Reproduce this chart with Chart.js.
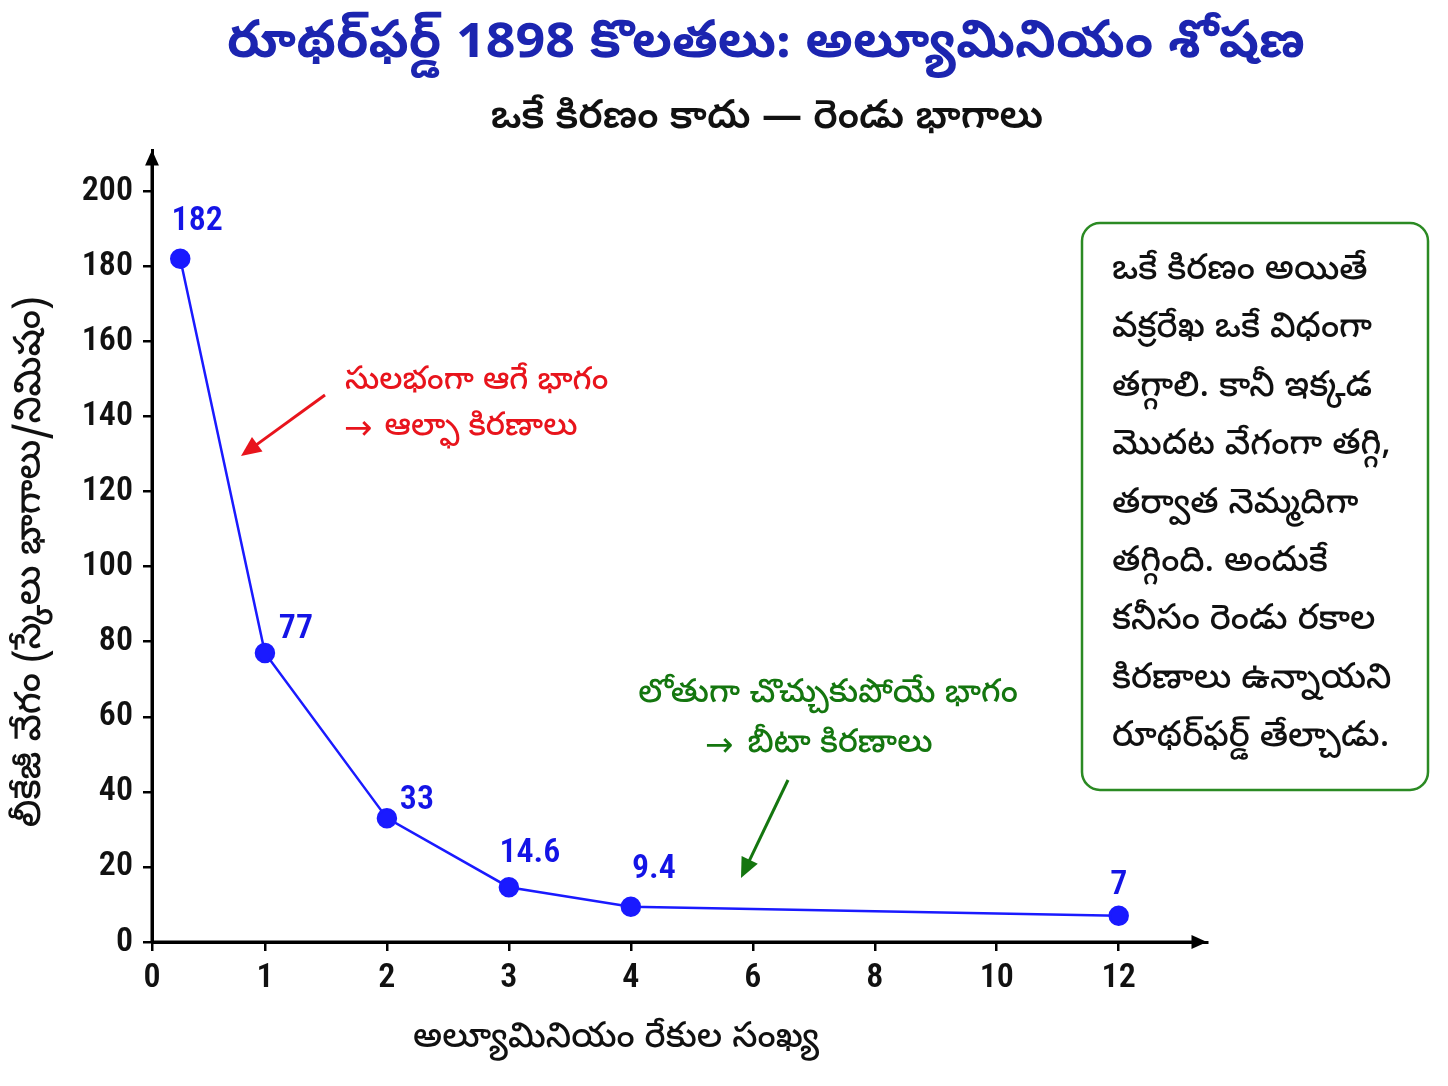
<!DOCTYPE html>
<html>
<head>
<meta charset="utf-8">
<script src="https://cdn.jsdelivr.net/npm/chart.js@4.4.1/dist/chart.umd.min.js"></script>
<style>
  html, body { margin: 0; padding: 0; background: #fff; }
  #wrap { width: 1448px; height: 1086px; }
</style>
</head>
<body>
<div id="wrap"><canvas id="absorb" width="1448" height="1086"></canvas></div>
<script>
// Rutherford 1898 - aluminium sheets vs leak rate
var sheets = [0.25, 1, 2, 3, 4, 12];
var leakRate = [182, 77, 33, 14.6, 9.4, 7];
var valueLabels = ["182", "77", "33", "14.6", "9.4", "7"];
var xTickSheets = [0, 1, 2, 3, 4, 6, 8, 10, 12];
var yTicks = [0, 20, 40, 60, 80, 100, 120, 140, 160, 180, 200];

var titleText = "రూథర్‌ఫర్డ్ 1898 కొలతలు: అల్యూమినియం శోషణ";
var subtitleText = "ఒకే కిరణం కాదు — రెండు భాగాలు";
var xTitle = "అల్యూమినియం రేకుల సంఖ్య";
var yTitle = "లీకేజీ వేగం (స్కేలు భాగాలు/నిమిషం)";
var alphaNote = ["సులభంగా ఆగే భాగం", "ఆల్ఫా కిరణాలు"];
var betaNote = ["లోతుగా చొచ్చుకుపోయే భాగం", "బీటా కిరణాలు"];
var boxLines = ["ఒకే కిరణం అయితే", "వక్రరేఖ ఒకే విధంగా", "తగ్గాలి. కానీ ఇక్కడ",
  "మొదట వేగంగా తగ్గి,", "తర్వాత నెమ్మదిగా", "తగ్గింది. అందుకే",
  "కనీసం రెండు రకాల", "కిరణాలు ఉన్నాయని", "రూథర్‌ఫర్డ్ తేల్చాడు."];

// the axis is not even: first step a bit short, after 4 each step = 2 sheets
function toPos(s) {
  if (s <= 1) return s * 0.926;
  if (s <= 4) return 0.926 + (s - 1);
  return 3.926 + (s - 4) / 2;
}

var TEL = '"Noto Sans Telugu", "Noto Sans", sans-serif';
var NUM = '"Liberation Sans Narrow", "Roboto Condensed", Roboto, sans-serif';
var ARW = '34px "DejaVu Sans", sans-serif';

var points = sheets.map(function (s, i) { return { x: toPos(s), y: leakRate[i] }; });

function arrow(ctx, x1, y1, x2, y2, color, w, head) {
  var a = Math.atan2(y2 - y1, x2 - x1);
  ctx.save();
  ctx.strokeStyle = color; ctx.fillStyle = color; ctx.lineWidth = w;
  ctx.beginPath();
  ctx.moveTo(x1, y1);
  ctx.lineTo(x2 - Math.cos(a) * head * 0.8, y2 - Math.sin(a) * head * 0.8);
  ctx.stroke();
  ctx.beginPath();
  ctx.moveTo(x2, y2);
  ctx.lineTo(x2 - head * Math.cos(a - 0.42), y2 - head * Math.sin(a - 0.42));
  ctx.lineTo(x2 - head * Math.cos(a + 0.42), y2 - head * Math.sin(a + 0.42));
  ctx.closePath();
  ctx.fill();
  ctx.restore();
}

// "→ text" line, arrow glyph from a font with a bigger arrow
function arrowLine(ctx, text, x, y, font, gap) {
  ctx.textAlign = 'left';
  ctx.font = ARW;
  ctx.fillText('→', x, y);
  var w = ctx.measureText('→').width;
  ctx.font = font;
  ctx.fillText(text, x + w + gap, y);
}

var decor = {
  id: 'decor',
  afterDraw: function (chart) {
    var ctx = chart.ctx, ca = chart.chartArea;
    var xs = chart.scales.x, ys = chart.scales.y;
    ctx.save();
    ctx.textAlign = 'center'; ctx.textBaseline = 'middle';
    // titles
    ctx.fillStyle = '#1c25b0';
    ctx.font = 'bold 52px ' + TEL;
    ctx.fillText(titleText, 766, 50);
    ctx.fillStyle = '#111';
    ctx.font = '600 40px ' + TEL;
    ctx.fillText(subtitleText, 767, 122);

    // axis titles
    ctx.font = '500 35px ' + TEL;
    ctx.fillText(xTitle, 616, 1042);
    ctx.save();
    ctx.translate(35, 562);
    ctx.rotate(-Math.PI / 2);
    ctx.font = '500 37px ' + TEL;
    ctx.fillText(yTitle, 0, 0);
    ctx.restore();

    // axis arrowheads
    arrow(ctx, ca.left, ca.bottom, ca.left, ca.top, '#000', 3, 17);
    arrow(ctx, ca.left, ca.bottom, ca.right, ca.bottom, '#000', 3, 17);

    // value labels
    var offs = [[17, -37], [31, -23], [30, -18], [21, -34], [23, -37], [0, -30]];
    ctx.fillStyle = '#1414e6';
    ctx.font = '600 34px ' + NUM;
    points.forEach(function (p, i) {
      var px = xs.getPixelForValue(p.x), py = ys.getPixelForValue(p.y);
      ctx.fillText(valueLabels[i], px + offs[i][0], py + offs[i][1]);
    });

    // alpha note
    var redFont = '500 32px ' + TEL;
    ctx.textAlign = 'left';
    ctx.fillStyle = '#e8141c';
    ctx.font = redFont;
    ctx.fillText(alphaNote[0], 345, 384);
    arrowLine(ctx, alphaNote[1], 344, 430, redFont, 12);
    arrow(ctx, 325, 395, 241, 456, '#e8141c', 3, 22);

    // beta note
    var greenFont = '500 33px ' + TEL;
    ctx.textAlign = 'center';
    ctx.fillStyle = '#14760f';
    ctx.font = greenFont;
    ctx.fillText(betaNote[0], 828, 697);
    arrowLine(ctx, betaNote[1], 705, 747, greenFont, 14);
    arrow(ctx, 788, 780, 741, 878, '#14760f', 3, 22);

    // explanation box
    ctx.beginPath();
    ctx.roundRect(1082, 223, 346, 567, 18);
    ctx.fillStyle = '#fff'; ctx.fill();
    ctx.strokeStyle = '#2b8a23'; ctx.lineWidth = 2.5; ctx.stroke();
    ctx.textAlign = 'left';
    ctx.fillStyle = '#111';
    ctx.font = '500 35px ' + TEL;
    boxLines.forEach(function (l, i) { ctx.fillText(l, 1112, 274 + i * 58.4); });
    ctx.restore();
  }
};

new Chart(document.getElementById('absorb'), {
  type: 'line',
  data: {
    datasets: [{
      data: points,
      borderColor: '#1a1aff',
      borderWidth: 2.5,
      backgroundColor: '#1a1aff',
      pointRadius: 9,
      pointHoverRadius: 9,
      tension: 0
    }]
  },
  options: {
    responsive: false,
    animation: false,
    layout: { padding: { top: 150, right: 241, left: 0, bottom: 0 } },
    plugins: { legend: { display: false }, tooltip: { enabled: false } },
    scales: {
      x: {
        type: 'linear',
        min: 0,
        max: 8.65,
        afterFit: function (s) { s.height = 144; },
        afterBuildTicks: function (s) {
          s.ticks = xTickSheets.map(function (v) { return { value: toPos(v) }; });
        },
        ticks: {
          color: '#111', padding: 7,
          font: { family: NUM, size: 34, weight: '600' },
          callback: function (v) {
            var i = xTickSheets.map(toPos).indexOf(v);
            return i >= 0 ? String(xTickSheets[i]) : '';
          }
        },
        grid: { drawOnChartArea: false, color: '#000', lineWidth: 2.5, tickLength: 9 },
        border: { color: '#000', width: 3 }
      },
      y: {
        min: 0,
        max: 211,
        afterFit: function (s) { s.width = 152; },
        afterBuildTicks: function (s) {
          s.ticks = yTicks.map(function (v) { return { value: v }; });
        },
        ticks: {
          color: '#111', padding: 10,
          font: { family: NUM, size: 34, weight: '600' }
        },
        grid: { drawOnChartArea: false, color: '#000', lineWidth: 2.5, tickLength: 9 },
        border: { color: '#000', width: 3 }
      }
    }
  },
  plugins: [decor]
});
</script>
</body>
</html>
